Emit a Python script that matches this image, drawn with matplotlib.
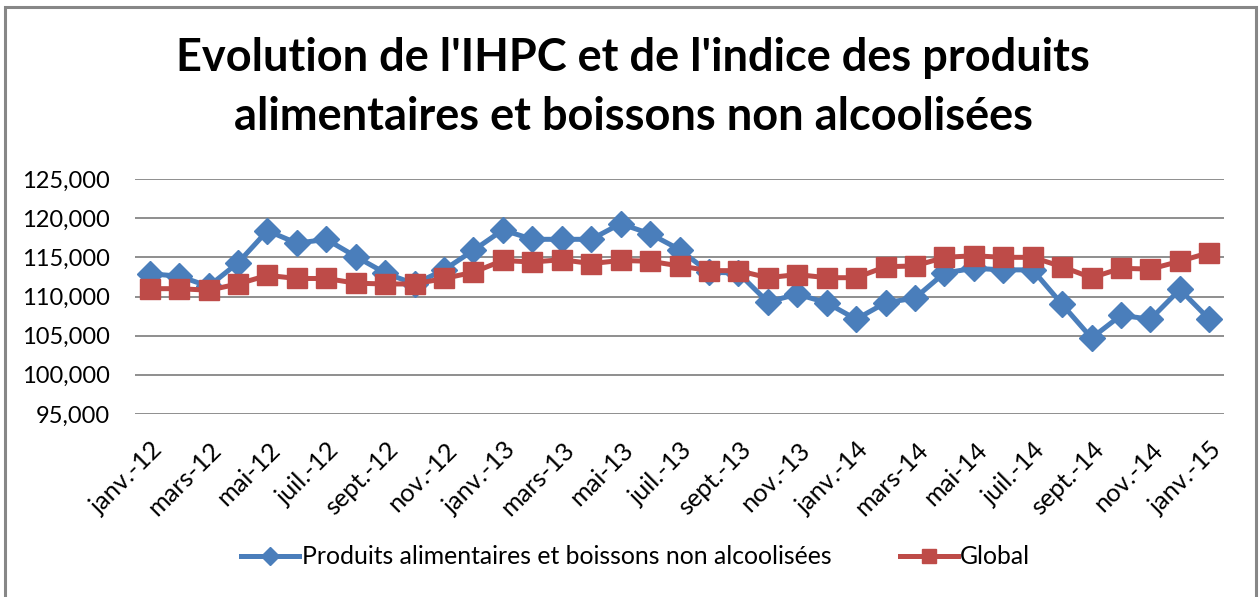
import matplotlib
matplotlib.use("Agg")
import matplotlib.pyplot as plt
from matplotlib.lines import Line2D
from matplotlib.patches import Rectangle

months = ["janv.-12", "févr.-12", "mars-12", "avr.-12", "mai-12", "juin-12", "juil.-12", "août-12",
          "sept.-12", "oct.-12", "nov.-12", "déc.-12",
          "janv.-13", "févr.-13", "mars-13", "avr.-13", "mai-13", "juin-13", "juil.-13", "août-13",
          "sept.-13", "oct.-13", "nov.-13", "déc.-13",
          "janv.-14", "févr.-14", "mars-14", "avr.-14", "mai-14", "juin-14", "juil.-14", "août-14",
          "sept.-14", "oct.-14", "nov.-14", "déc.-14",
          "janv.-15"]

alim = [112.9, 112.6, 111.3, 114.3, 118.4, 116.8, 117.3, 115.1, 113.0, 111.6, 113.4, 115.9,
        118.5, 117.3, 117.3, 117.3, 119.3, 118.0, 116.0, 113.1, 113.0, 109.3, 110.3, 109.2,
        107.1, 109.2, 109.8, 113.0, 113.6, 113.4, 113.4, 109.0, 104.7, 107.6, 107.1, 110.9,
        107.1]

glob = [111.0, 111.0, 110.8, 111.6, 112.7, 112.3, 112.3, 111.7, 111.6, 111.6, 112.3, 113.1,
        114.6, 114.4, 114.7, 114.2, 114.6, 114.5, 113.9, 113.3, 113.3, 112.4, 112.8, 112.4,
        112.4, 113.8, 113.9, 115.0, 115.2, 115.0, 115.0, 113.8, 112.4, 113.6, 113.5, 114.5,
        115.6]

yticks = [95, 100, 105, 110, 115, 120, 125]

title = "Evolution de l'IHPC et de l'indice des produits\nalimentaires et boissons non alcoolisées"
label_alim = "Produits alimentaires et boissons non alcoolisées"
label_glob = "Global"

BLUE = "#4A7EBB"
RED = "#BE4B48"
GRID = "#868686"
FONT = "Lato"

plt.rcParams['font.family'] = [FONT, 'DejaVu Sans']

fig = plt.figure(figsize=(12.59, 5.97), dpi=100)
ax = fig.add_axes([135/1259, 1-414/597, (1224-135)/1259, (414-179)/597])

x = list(range(len(months)))
ax.plot(x, alim, color=BLUE, lw=3.6, marker='D', ms=13, mfc=BLUE, mec=BLUE, zorder=3)
ax.plot(x, glob, color=RED, lw=3.6, marker='s', ms=14, mfc=RED, mec=RED, zorder=4)

ax.set_xlim(-0.5, len(months)-0.5)
ax.set_ylim(95, 125)
ax.set_yticks(yticks)
ax.set_yticklabels([f"{v:.3f}".replace('.', ',') for v in yticks], fontsize=17)
ax.yaxis.grid(True, color=GRID, lw=1.3)
ax.set_axisbelow(True)
for s in ax.spines.values():
    s.set_visible(False)
ax.tick_params(axis='y', length=0, pad=18)
ax.tick_params(axis='x', length=0)

tick_pos = x[::2]
ax.set_xticks(tick_pos)
ax.set_xticklabels([])
for p in tick_pos:
    ax.annotate(months[p], xy=(p, 95), xycoords='data', xytext=(1, -24),
                textcoords='offset pixels', rotation=45, ha='right', va='top',
                rotation_mode='anchor', fontsize=18.3)

fig.text(0.503, 1-130/597, title, ha='center', va='baseline', fontsize=32.5,
         fontweight='bold', linespacing=1.5)

# legend
handles = [Line2D([], [], color=BLUE, lw=3.6, marker='D', ms=9),
           Line2D([], [], color=RED, lw=3.6, marker='s', ms=10)]
fig.legend(handles, [label_alim, label_glob], loc='center', bbox_to_anchor=(0.505, 1-557/597),
           ncol=2, frameon=False, fontsize=17.8, handlelength=2.35, handletextpad=0.1,
           columnspacing=2.75)

fig.patches.append(Rectangle((5/1259, -0.1), (1256-5)/1259, 1.1 - 7/597, transform=fig.transFigure,
                             fill=False, ec="#878787", lw=2.2))

fig.savefig("out.png", dpi=100)
